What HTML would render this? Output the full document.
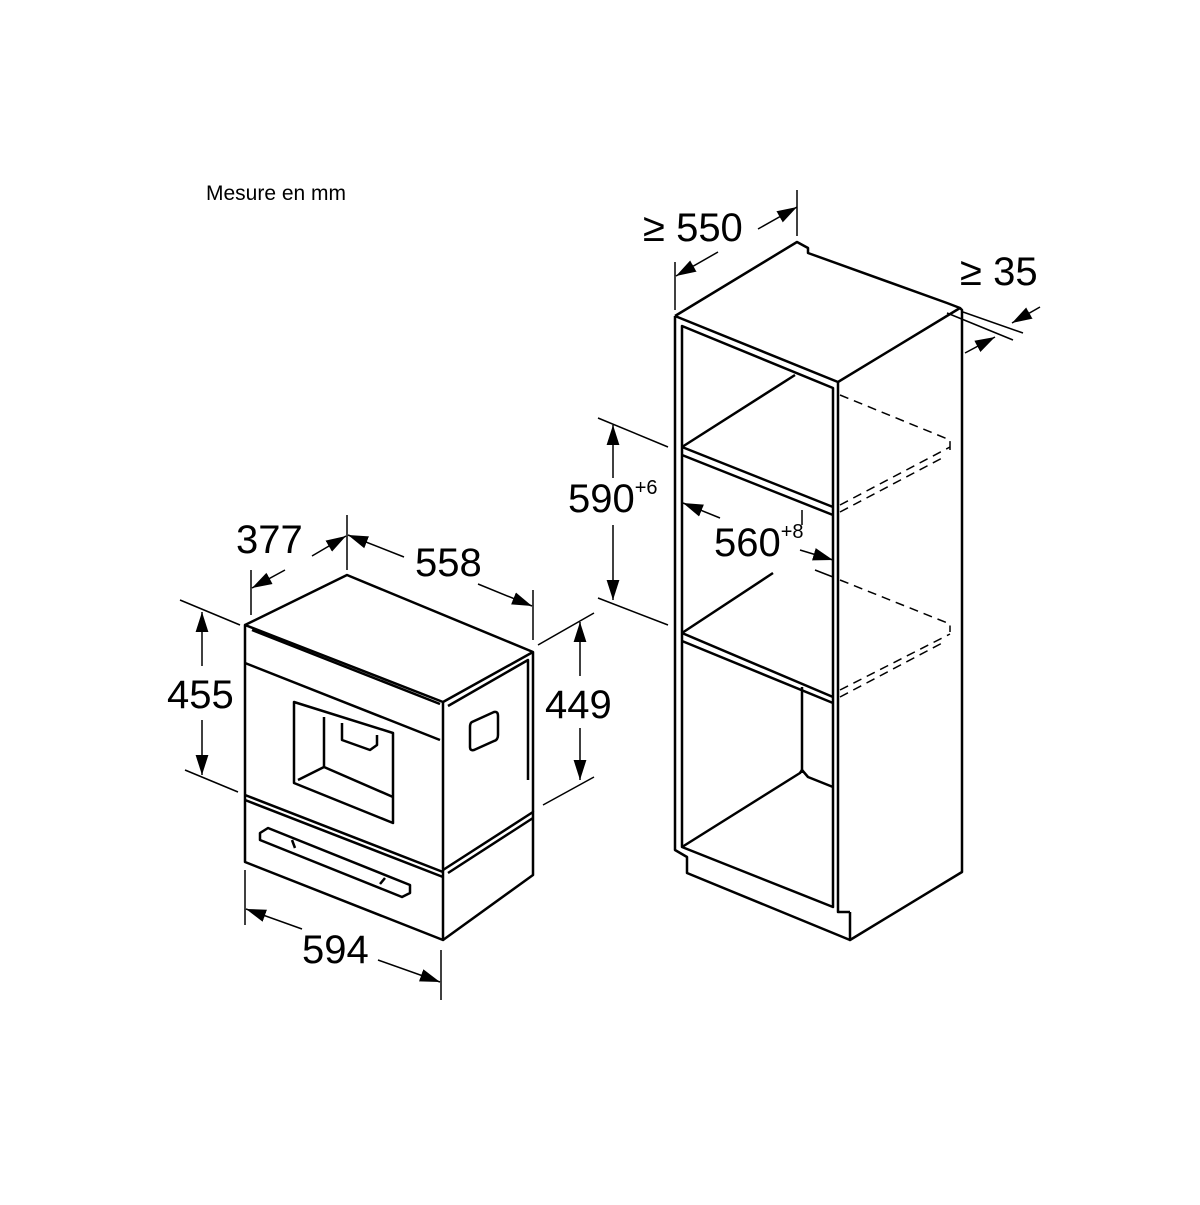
<!DOCTYPE html>
<html><head><meta charset="utf-8"><style>html,body{margin:0;background:#fff}</style></head><body>
<svg width="1200" height="1200" viewBox="0 0 1200 1200" xmlns="http://www.w3.org/2000/svg" font-family="Liberation Sans, sans-serif">
<defs>
<marker id="a" viewBox="0 0 10 10" refX="10" refY="5" markerWidth="20" markerHeight="20" markerUnits="userSpaceOnUse" orient="auto-start-reverse"><path d="M0,1.8L10,5L0,8.2z" fill="#000"/></marker>
</defs>
<rect width="1200" height="1200" fill="#fff"/>
<text x="206" y="200" font-size="21">Mesure en mm</text>
<g stroke="#000" fill="none" stroke-width="2.5" stroke-linejoin="round">
<!-- appliance -->
<path d="M245,625 L347,575 L533,652 L533,812"/>
<path d="M245,625 L443,702 L443,940 L245,862 Z"/>
<path d="M252,630 L440,704"/>
<path d="M245,663 L440,740"/>
<path d="M245,795 L443,872"/>
<path d="M245,800 L443,877"/>
<path d="M443,702 L533,652 M448,706 L528,660 L528,780"/>
<path d="M443,870 L533,812 L533,875 L443,940 M448,873 L533,818"/>
<path d="M294,702 L393,733 L393,823 L294,783 Z"/>
<path d="M324,717 L324,767 L393,797 M298,780 L324,767"/>
<path d="M342,723 L342,740 L370,750 L377,745 L377,735"/>
<path d="M260,833 L268,828 L410,885 L410,893 L402,897 L260,840 Z M292,840 L295,848 M385,878 L380,884"/>
<path d="M472,722 L494,712 Q498,711 498,716 L498,735 Q498,740 494,741 L474,750 Q470,751 470,747 L470,727 Q470,723 472,722 Z"/>
<!-- cabinet -->
<path d="M675,316 L797,242 L808,248 L808,253 L947,303 L960,308 L962,310 L962,872 L850,940 L850,912"/>
<path d="M675,316 L838,382 L838,912 L850,912 M838,382 L960,308"/>
<path d="M675,316 L675,850 L687,857 L687,873 L850,940"/>
<path d="M682,326 L833,388 L833,907 L682,847 Z"/>
<path d="M682,447 L833,507 M682,455 L833,515"/>
<path d="M682,633 L833,697 M682,641 L833,703"/>
<path d="M682,447 L795,375 M682,633 L773,573 M682,847 L800,773 L802,770 L808,777 L833,787"/>
<path d="M802,687 L802,773"/>
</g>
<g stroke="#000" fill="none" stroke-width="1.5" stroke-dasharray="9,6">
<path d="M840,395 L950,440 L950,450"/>
<path d="M840,505 L950,447 M840,512 L946,456"/>
<path d="M840,580 L950,624 L950,632"/>
<path d="M840,690 L950,634 M840,697 L946,641"/>
</g>
<g stroke="#000" stroke-width="1.5" fill="none">
<path d="M251,570 L251,615 M347,515 L347,570 M533,590 L533,640"/>
<path d="M252,588 L285,570" marker-start="url(#a)"/>
<path d="M312,556 L346,536" marker-end="url(#a)"/>
<path d="M348,535 L404,557" marker-start="url(#a)"/>
<path d="M478,584 L532,606" marker-end="url(#a)"/>
<path d="M180,600 L240,625 M185,770 L238,792"/>
<path d="M202,612 L202,666" marker-start="url(#a)"/>
<path d="M202,720 L202,775" marker-end="url(#a)"/>
<path d="M538,645 L594,613 M543,805 L594,777"/>
<path d="M580,622 L580,676" marker-start="url(#a)"/>
<path d="M580,728 L580,780" marker-end="url(#a)"/>
<path d="M245,870 L245,925 M441,950 L441,1000"/>
<path d="M246,909 L302,929" marker-start="url(#a)"/>
<path d="M378,960 L440,982" marker-end="url(#a)"/>
<path d="M598,418 L668,447 M598,598 L668,625"/>
<path d="M613,425 L613,478" marker-start="url(#a)"/>
<path d="M613,525 L613,600" marker-end="url(#a)"/>
<path d="M683,503 L720,518" marker-start="url(#a)"/>
<path d="M800,550 L833,560" marker-end="url(#a)"/>
<path d="M802,510 L802,525 M815,570 L833,577"/>
<path d="M675,262 L675,310 M797,190 L797,236"/>
<path d="M676,276 L718,252" marker-start="url(#a)"/>
<path d="M758,229 L797,207" marker-end="url(#a)"/>
<path d="M963,312 L1023,333 M947,313 L1013,340"/>
<path d="M1040,307 L1012,323" marker-end="url(#a)"/>
<path d="M965,353 L995,337" marker-end="url(#a)"/>
</g>
<g font-size="40" fill="#000">
<text x="236" y="553">377</text>
<text x="415" y="576">558</text>
<text x="167" y="708">455</text>
<text x="545" y="718">449</text>
<text x="302" y="963">594</text>
<text x="568" y="512">590<tspan font-size="20" dy="-18">+6</tspan></text>
<text x="714" y="556">560<tspan font-size="20" dy="-18">+8</tspan></text>
<text x="643" y="241">≥ 550</text>
<text x="960" y="285">≥ 35</text>
</g>
</svg>
</body></html>
